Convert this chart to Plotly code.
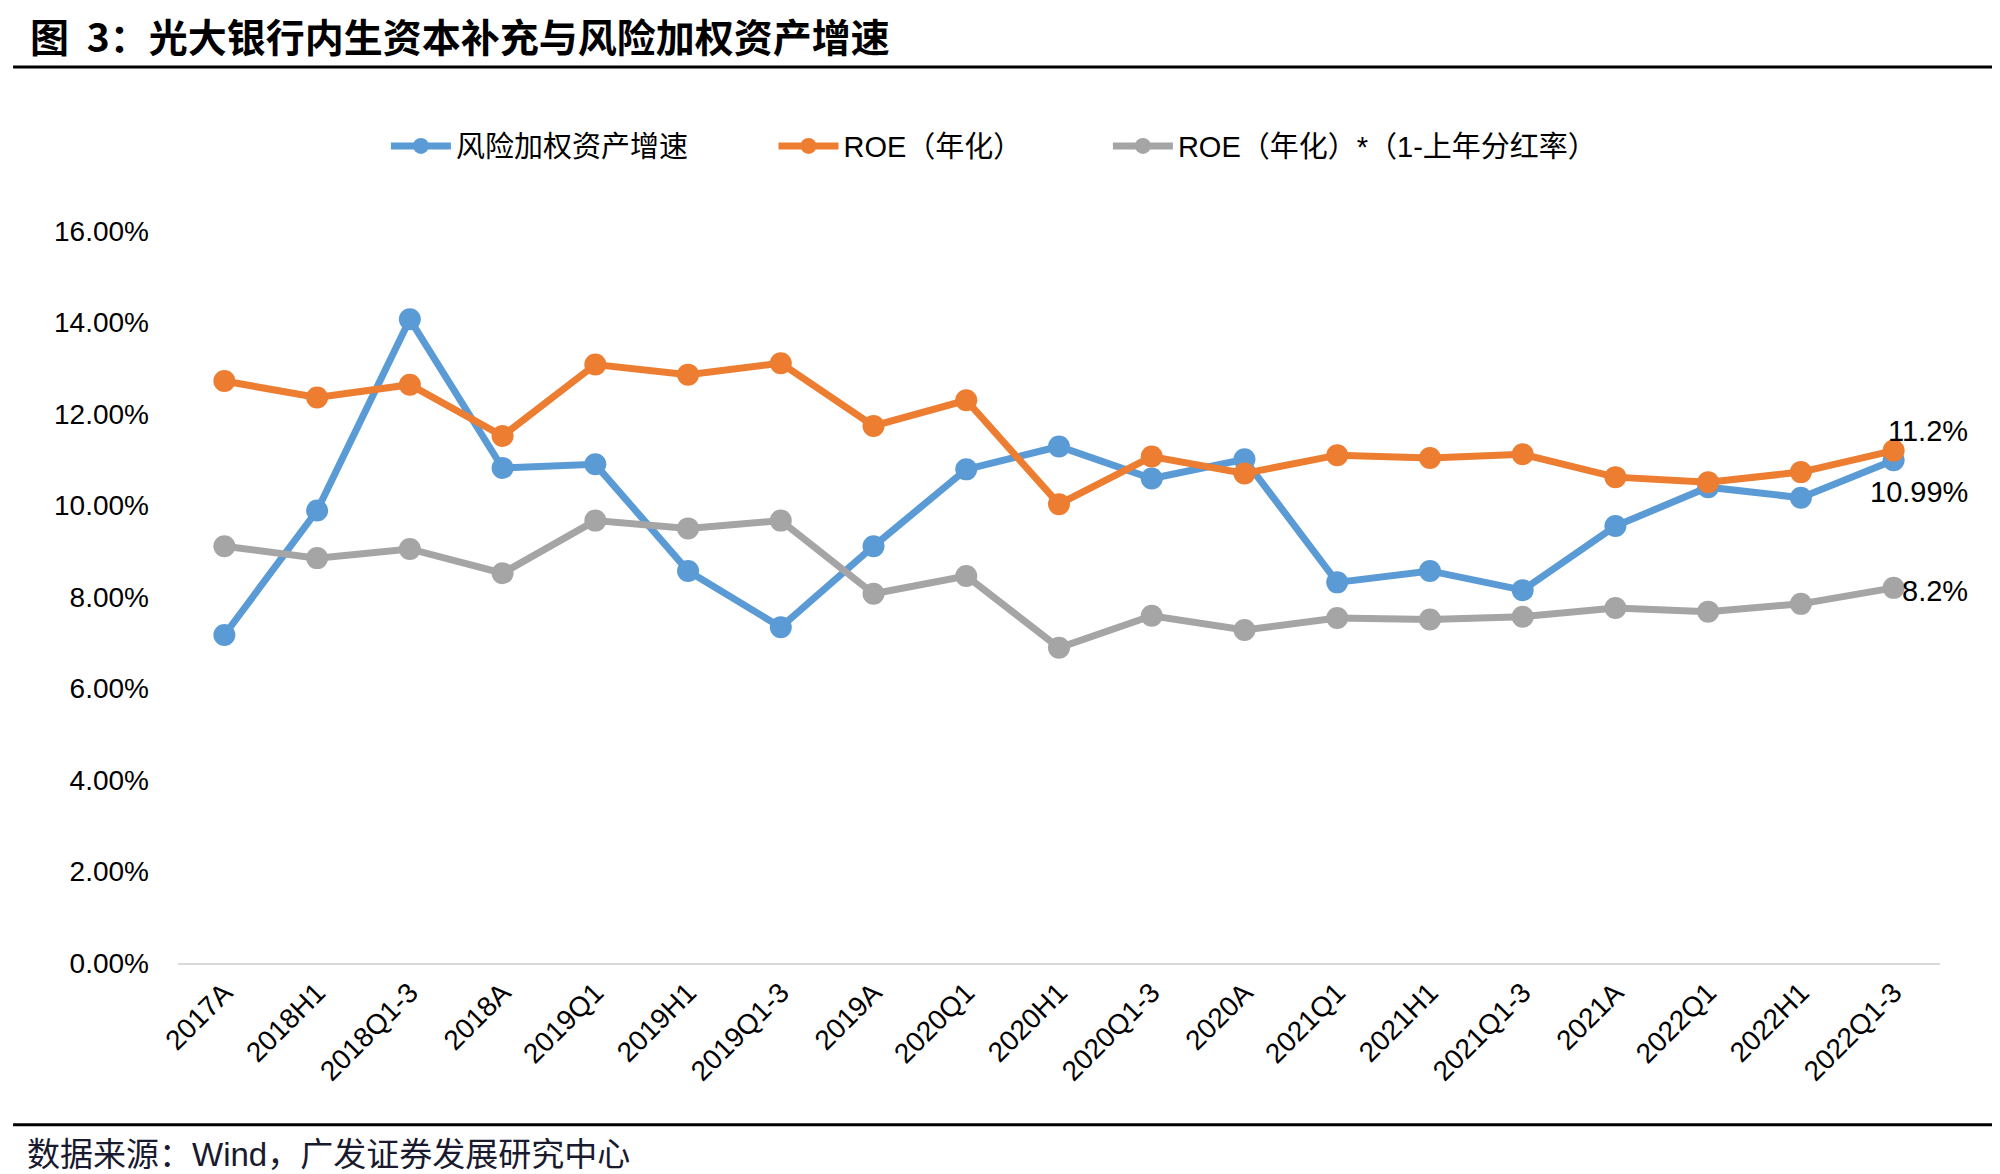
import plotly.graph_objects as go

# categories and series (percent)
categories = ['2017A', '2018H1', '2018Q1-3', '2018A', '2019Q1', '2019H1', '2019Q1-3',
              '2019A', '2020Q1', '2020H1', '2020Q1-3', '2020A', '2021Q1', '2021H1',
              '2021Q1-3', '2021A', '2022Q1', '2022H1', '2022Q1-3']
rwa_growth = [7.17, 9.89, 14.07, 10.82, 10.90, 8.57, 7.34, 9.11, 10.79, 11.29,
              10.59, 11.01, 8.32, 8.57, 8.15, 9.55, 10.40, 10.17, 10.99]
roe = [12.72, 12.36, 12.64, 11.52, 13.08, 12.86, 13.11, 11.74, 12.30, 10.03,
       11.07, 10.70, 11.10, 11.04, 11.12, 10.62, 10.51, 10.73, 11.2]
roe_retained = [9.11, 8.85, 9.05, 8.52, 9.67, 9.50, 9.67, 8.07, 8.46, 6.89,
                7.59, 7.28, 7.54, 7.51, 7.57, 7.76, 7.68, 7.85, 8.2]

names = ['风险加权资产增速', 'ROE（年化）', 'ROE（年化）*（1-上年分红率）']
colors = ['#5B9BD5', '#ED7D31', '#A5A5A5']

FONT = 'Liberation Sans, Noto Sans CJK SC, sans-serif'
PAD = '\u00a0' * 10

fig = go.Figure()
for name, vals, c in zip(names, [rwa_growth, roe, roe_retained], colors):
    fig.add_trace(go.Scatter(
        x=categories, y=vals, name=name + PAD, mode='lines+markers',
        line=dict(color=c, width=7),
        marker=dict(color=c, size=22),
    ))

# labels on last points
shifts = [-32, 20, -3]
for vals, ys in zip([rwa_growth, roe, roe_retained], shifts):
    fig.add_annotation(x=categories[-1], y=vals[-1], xref='x', yref='y',
                       text=f'{vals[-1]}%', showarrow=False,
                       xanchor='right', yanchor='middle', xshift=76, yshift=ys,
                       font=dict(size=29, color='black', family=FONT))

# footer
fig.add_annotation(x=-0.087, y=-0.262, xref='paper', yref='paper',
                   text='数据来源：Wind，广发证券发展研究中心', showarrow=False,
                   xanchor='left', yanchor='middle',
                   font=dict(size=33, color='#1a1a2e', family=FONT))

# header and footer rules
for yy in [1.224, -0.221]:
    fig.add_shape(type='line', xref='paper', yref='paper',
                  x0=-0.0936, x1=1.0358, y0=yy, y1=yy,
                  line=dict(color='black', width=3))

fig.update_layout(
    width=2000, height=1174,
    margin=dict(l=170, r=68, t=223, b=219),
    paper_bgcolor='white', plot_bgcolor='white',
    font=dict(family=FONT, size=28, color='black'),
    title=dict(text='<b>图  3：光大银行内生资本补充与风险加权资产增速</b>',
               x=0.011, xref='container', xanchor='left',
               y=1 - 30 / 1174, yref='container', yanchor='middle',
               font=dict(size=39, family='Noto Sans CJK SC', color='black')),
    legend=dict(orientation='h', x=0.118, xanchor='left', y=1.116, yanchor='middle',
                font=dict(size=29, family=FONT), itemwidth=60),
    showlegend=True,
)
fig.update_xaxes(type='category', showline=True, linecolor='#D9D9D9', linewidth=2,
                 showgrid=False, ticks='', tickangle=-45,
                 tickfont=dict(size=28, family=FONT), range=[-0.5, 18.5])
fig.update_yaxes(range=[0, 16], dtick=2, tickformat='.2f', ticksuffix='%',
                 showgrid=False, zeroline=False, showline=False, ticks='',
                 ticklabelstandoff=28, tickfont=dict(size=28, family=FONT))

fig.write_html('out.html')
